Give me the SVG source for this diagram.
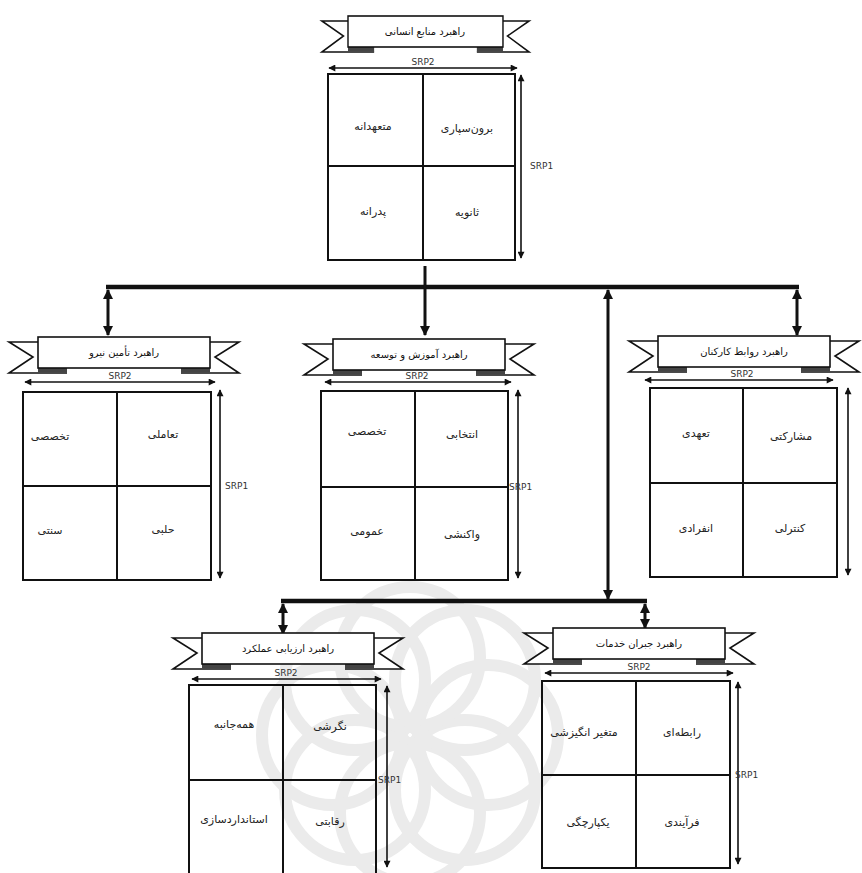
<svg xmlns="http://www.w3.org/2000/svg" xmlns:xlink="http://www.w3.org/1999/xlink" width="862" height="873" viewBox="0 0 862 873">
  <style>
    .rb { fill: #ffffff; stroke: #111; stroke-width: 1.6; }
    .box { fill: none; stroke: #111; stroke-width: 2; }
    .div { stroke: #111; stroke-width: 2; }
    .dim { stroke: #111; stroke-width: 1.6; fill: none; marker-start: url(#sh); marker-end: url(#sh); }
    .bus { stroke: #111; stroke-width: 4.5; fill: none; }
    .con { stroke: #111; stroke-width: 3; fill: none; }
    .title { font-family: "DejaVu Sans", "Noto Sans", sans-serif; font-size: 10px; fill: #111; text-anchor: middle; }
    .cell { font-family: "DejaVu Sans", "Noto Sans", sans-serif; font-size: 11px; fill: #222; text-anchor: middle; }
    .srp { font-family: "DejaVu Sans", "Liberation Sans", sans-serif; font-size: 9px; fill: #333; }
    .wm { fill: none; stroke: #ebebeb; stroke-width: 12; }
  </style>
  <defs>
    <marker id="sh" viewBox="0 0 10 10" refX="9" refY="5" markerWidth="8" markerHeight="7" markerUnits="userSpaceOnUse" orient="auto-start-reverse">
      <path d="M0,0 L10,5 L0,10 z" fill="#111"/>
    </marker>
    <marker id="bh" viewBox="0 0 10 10" refX="9" refY="5" markerWidth="12" markerHeight="10" markerUnits="userSpaceOnUse" orient="auto-start-reverse">
      <path d="M0,0 L10,5 L0,10 z" fill="#111"/>
    </marker>
    <!-- ribbon banner: main panel 172x31 with notched tails and folds -->
    <g id="ribbon">
      <path class="rb" d="M0,5 H-29 L-5,20 L-29,36 H29"/>
      <path class="rb" d="M172,5 H201 L177,20 L201,36 H143"/>
      <rect x="0" y="31" width="29" height="4.5" fill="#444"/>
      <rect x="143" y="31" width="29" height="4.5" fill="#444"/>
      <rect class="rb" x="0" y="0" width="172" height="31"/>
    </g>
  </defs>

  <rect width="862" height="873" fill="#ffffff"/>

  <!-- background rosette emblem -->
  <g id="emblem">
    <circle class="wm" cx="488" cy="735" r="70"/>
    <circle class="wm" cx="465" cy="790" r="70"/>
    <circle class="wm" cx="410" cy="813" r="70"/>
    <circle class="wm" cx="355" cy="790" r="70"/>
    <circle class="wm" cx="332" cy="735" r="70"/>
    <circle class="wm" cx="355" cy="680" r="70"/>
    <circle class="wm" cx="410" cy="657" r="70"/>
    <circle class="wm" cx="465" cy="680" r="70"/>
  </g>

  <!-- connectors -->
  <g id="connectors">
    <line class="bus" x1="106" y1="287" x2="799" y2="287"/>
    <line class="con" x1="425" y1="266" x2="425" y2="335" marker-end="url(#bh)"/>
    <line class="con" x1="108" y1="290" x2="108" y2="335" marker-start="url(#bh)" marker-end="url(#bh)"/>
    <line class="con" x1="797" y1="290" x2="797" y2="335" marker-start="url(#bh)" marker-end="url(#bh)"/>
    <line class="con" x1="608" y1="290" x2="608" y2="599" marker-start="url(#bh)" marker-end="url(#bh)"/>
    <line class="bus" x1="281" y1="601" x2="647" y2="601"/>
    <line class="con" x1="283" y1="604" x2="283" y2="634" marker-start="url(#bh)" marker-end="url(#bh)"/>
    <line class="con" x1="645" y1="604" x2="645" y2="628" marker-start="url(#bh)" marker-end="url(#bh)"/>
  </g>

  <!-- HR strategy -->
  <g id="hr">
    <use xlink:href="#ribbon" href="#ribbon" transform="translate(348,16) scale(0.901,1)"/>
    <text class="title" x="425" y="35">راهبرد منابع انسانی</text>
    <line class="dim" x1="329" y1="68" x2="517" y2="68"/>
    <text class="srp" x="423" y="65" text-anchor="middle">SRP2</text>
    <rect class="box" x="328" y="74" width="187" height="186"/>
    <line class="div" x1="423" y1="74" x2="423" y2="260"/>
    <line class="div" x1="328" y1="166" x2="515" y2="166"/>
    <line class="dim" x1="521" y1="75" x2="521" y2="258"/>
    <text class="srp" x="530" y="169">SRP1</text>
    <text class="cell" x="373" y="130">متعهدانه</text>
    <text class="cell" x="467" y="132">برون‌سپاری</text>
    <text class="cell" x="373" y="215">پدرانه</text>
    <text class="cell" x="467" y="216">ثانویه</text>
  </g>

  <!-- staffing strategy -->
  <g id="staffing">
    <use xlink:href="#ribbon" href="#ribbon" transform="translate(38,337)"/>
    <text class="title" x="124" y="356">راهبرد تأمین نیرو</text>
    <line class="dim" x1="25" y1="382" x2="215" y2="382"/>
    <text class="srp" x="120" y="379" text-anchor="middle">SRP2</text>
    <rect class="box" x="23" y="392" width="188" height="188"/>
    <line class="div" x1="117" y1="392" x2="117" y2="580"/>
    <line class="div" x1="23" y1="486" x2="211" y2="486"/>
    <line class="dim" x1="220" y1="390" x2="220" y2="578"/>
    <text class="srp" x="225" y="489">SRP1</text>
    <text class="cell" x="50" y="440">تخصصی</text>
    <text class="cell" x="163" y="438">تعاملی</text>
    <text class="cell" x="50" y="534">سنتی</text>
    <text class="cell" x="163" y="533">حلبی</text>
  </g>

  <!-- training and development strategy -->
  <g id="training">
    <use xlink:href="#ribbon" href="#ribbon" transform="translate(333,339)"/>
    <text class="title" x="419" y="358">راهبرد آموزش و توسعه</text>
    <line class="dim" x1="325" y1="382" x2="511" y2="382"/>
    <text class="srp" x="417" y="379" text-anchor="middle">SRP2</text>
    <rect class="box" x="321" y="391" width="187" height="189"/>
    <line class="div" x1="415" y1="391" x2="415" y2="580"/>
    <line class="div" x1="321" y1="487" x2="508" y2="487"/>
    <line class="dim" x1="518" y1="390" x2="518" y2="578"/>
    <text class="srp" x="509" y="490">SRP1</text>
    <text class="cell" x="367" y="435">تخصصی</text>
    <text class="cell" x="462" y="438">انتخابی</text>
    <text class="cell" x="367" y="535">عمومی</text>
    <text class="cell" x="462" y="538">واکنشی</text>
  </g>

  <!-- employee relations strategy -->
  <g id="relations">
    <use xlink:href="#ribbon" href="#ribbon" transform="translate(658,336)"/>
    <text class="title" x="744" y="355">راهبرد روابط کارکنان</text>
    <line class="dim" x1="645" y1="380" x2="833" y2="380"/>
    <text class="srp" x="742" y="377" text-anchor="middle">SRP2</text>
    <rect class="box" x="650" y="388" width="187" height="189"/>
    <line class="div" x1="743" y1="388" x2="743" y2="577"/>
    <line class="div" x1="650" y1="483" x2="837" y2="483"/>
    <line class="dim" x1="848" y1="388" x2="848" y2="575"/>
    <text class="cell" x="696" y="437">تعهدی</text>
    <text class="cell" x="791" y="440">مشارکتی</text>
    <text class="cell" x="696" y="532">انفرادی</text>
    <text class="cell" x="790" y="532">کنترلی</text>
  </g>

  <!-- performance appraisal strategy -->
  <g id="appraisal">
    <use xlink:href="#ribbon" href="#ribbon" transform="translate(202,633)"/>
    <text class="title" x="288" y="652">راهبرد ارزیابی عملکرد</text>
    <line class="dim" x1="192" y1="679" x2="381" y2="679"/>
    <text class="srp" x="286" y="676" text-anchor="middle">SRP2</text>
    <rect class="box" x="189" y="685" width="187" height="200"/>
    <line class="div" x1="283" y1="685" x2="283" y2="873"/>
    <line class="div" x1="189" y1="780" x2="376" y2="780"/>
    <line class="dim" x1="387" y1="686" x2="387" y2="867"/>
    <text class="srp" x="378" y="783">SRP1</text>
    <text class="cell" x="234" y="728">همه‌جانبه</text>
    <text class="cell" x="330" y="730">نگرشی</text>
    <text class="cell" x="234" y="823">استانداردسازی</text>
    <text class="cell" x="330" y="825">رقابتی</text>
  </g>

  <!-- compensation strategy -->
  <g id="compensation">
    <use xlink:href="#ribbon" href="#ribbon" transform="translate(553,628)"/>
    <text class="title" x="639" y="647">راهبرد جبران خدمات</text>
    <line class="dim" x1="545" y1="673" x2="733" y2="673"/>
    <text class="srp" x="639" y="670" text-anchor="middle">SRP2</text>
    <rect class="box" x="542" y="681" width="188" height="187"/>
    <line class="div" x1="636" y1="681" x2="636" y2="868"/>
    <line class="div" x1="542" y1="775" x2="730" y2="775"/>
    <line class="dim" x1="738" y1="682" x2="738" y2="864"/>
    <text class="srp" x="735" y="778">SRP1</text>
    <text class="cell" x="584" y="736">متغیر انگیزشی</text>
    <text class="cell" x="682" y="736">رابطه‌ای</text>
    <text class="cell" x="588" y="826">یکپارچگی</text>
    <text class="cell" x="682" y="826">فرآیندی</text>
  </g>
</svg>
